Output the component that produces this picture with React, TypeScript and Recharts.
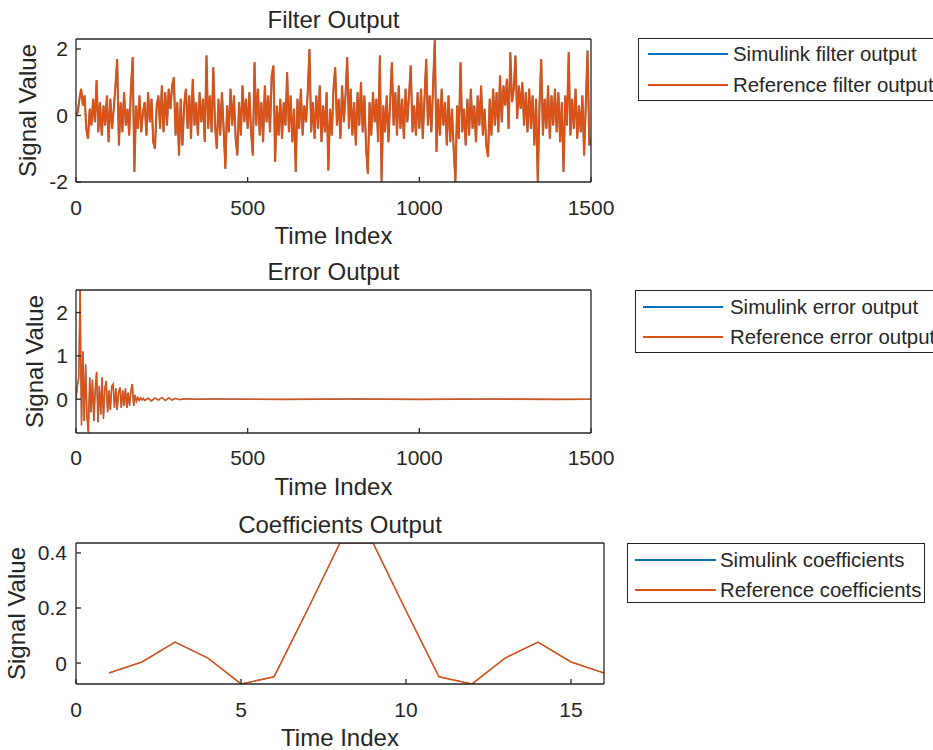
import React from 'react';
import { LineChart, Line, XAxis, YAxis, Legend, Customized } from 'recharts';

const FONT = '"Liberation Sans", Arial, Helvetica, sans-serif';
const AXIS = '#262626';
const BLUE = '#0072BD';
const ORANGE = '#D95319';

// ---------- Data ----------
const filterStep = 5; // one reading every 5 samples of the time index
const filterOutput = [
  0, 0.1, 0.5, 0.8, 0.3, 0.6, -0.4, -0.7, 0.2, -0.3, 0.5, -0.2, 1.06, -0.5, 0.4, -0.6, 0.3, -0.3, 0.6, -0.8,
  0.5, -0.4, 0.2, 0.9, 1.7, -0.9, 0.4, -0.5, 0.7, -0.3, 0.2, -0.6, 0.8, 1.75, -1.7, 0.3, -0.4, 0.6, -0.5, 0.1,
  0.4, -0.6, 0.7, -0.2, 0.5, -0.8, -1.0, 0.3, 0.6, -0.4, 0.9, -0.5, 0.7, -0.3, 0.8, 0.2, 0.9, 1.15, -0.6, 0.4,
  -1.2, 0.5, -0.9, 0.3, 0.8, -0.4, 0.6, -0.7, 1.1, -0.3, 0.4, -0.6, 0.7, -0.2, 0.5, -0.8, 1.8, -0.4, 0.6, -0.5,
  1.45, -0.3, -1.0, 0.5, -0.6, 0.7, -0.4, -1.6, 0.3, -0.5, 0.8, -0.3, 0.6, -0.7, -1.2, 0.4, -0.6, 0.9, -0.2, 0.5,
  -0.4, 0.7, -0.5, -1.2, 1.6, -0.3, 0.8, -0.6, 0.4, -0.8, 0.9, -0.2, 0.6, -0.5, 1.2, 1.5, -1.4, 0.3, -0.6, 0.5,
  -0.7, 0.4, -0.3, 1.3, -0.5, 0.6, -0.8, 0.2, -1.7, 0.5, -0.4, 0.8, -0.6, 0.3, -0.2, 0.7, 2.0, -0.5, 0.4, -0.7,
  0.6, -0.4, 0.9, -0.8, 0.3, -0.5, 0.7, -1.65, 0.2, -0.6, 0.8, 1.45, -0.3, 0.5, -0.7, 0.9, -0.2, 0.6, 1.75, -0.4,
  0.8, -0.6, 0.4, -0.9, 0.7, -0.3, 1.0, -0.5, 0.6, -1.0, -1.75, 0.4, -0.6, 0.7, -0.2, 0.5, -0.8, 1.8, -2.0, 0.3,
  -0.5, 0.6, -0.8, 0.4, 1.6, -0.3, 0.7, -0.6, 0.9, -0.4, 0.5, -0.7, 0.8, -0.2, 0.6, 1.5, -0.5, 0.3, -0.6, 0.7,
  -0.4, 0.8, -0.7, 0.5, 1.7, -0.3, 0.6, -0.5, 0.9, 2.27, -1.1, 0.5, -0.6, 0.8, -0.3, 0.4, -0.9, 0.6, -0.8, 0.2,
  -1.0, -2.0, 0.3, -0.7, 1.6, -0.5, 0.2, -0.9, 0.5, -0.6, 0.8, -0.4, 0.3, -0.8, 0.6, -0.3, 0.9, -0.6, 0.2, -0.9,
  -1.25, 0.5, -0.6, 0.8, -0.3, 0.7, -0.5, 1.2, -0.2, 0.9, 0.3, 1.1, -0.4, 1.9, 0.4, 0.8, 1.8, -0.1, 0.9, 0.2,
  1.0, -0.3, 0.7, -0.5, 0.8, -0.4, 0.6, -0.9, 0.5, -2.0, 0.3, 1.7, -0.6, 0.5, -0.4, 0.9, -0.7, 0.6, -0.3, 0.8,
  -0.5, 0.7, -0.8, 0.4, -1.7, 0.6, -0.3, 1.9, -0.6, 0.5, -0.4, 0.8, -0.7, 0.3, -0.5, 0.6, -1.2, 0.4, 1.95, -0.9, -0.7,
];

const errorIndex = [
  0, 4, 8, 12, 16, 20, 24, 28, 32, 36, 40, 44, 48, 52, 56, 60, 64, 68, 72, 76,
  80, 84, 88, 92, 96, 100, 104, 108, 112, 116, 120, 124, 128, 132, 136, 140, 144, 148, 152, 156,
  160, 164, 168, 172, 176, 180, 184, 188, 192, 196,
  200, 210, 220, 230, 240, 250, 260, 270, 280, 290, 300, 320, 350,
  400, 600, 800, 1000, 1200, 1400, 1500,
];
const errorOutput = [
  0, 0.3, 0.5, 2.52, -0.6, 1.1, -0.5, 0.8, -0.4, -0.77, 0.5, -0.3, 0.45, -0.5, 0.2, 0.63, -0.53, 0.3, -0.35, 0.5,
  -0.45, 0.25, 0.42, -0.3, 0.2, -0.25, 0.3, 0.35, -0.2, 0.25, -0.25, 0.15, 0.27, -0.2, 0.2, -0.15, 0.25, -0.2, 0.15, -0.15,
  0.2, 0.35, -0.15, 0.1, -0.05, 0.04, -0.03, 0.03, -0.02, 0.02,
  -0.03, 0.02, -0.04, 0.03, -0.02, 0.04, -0.03, 0.03, -0.02, 0.02, -0.01, 0.01, 0,
  0.005, -0.005, 0.004, -0.004, 0.003, -0.003, 0,
];

const coeffIndex = [1, 2, 3, 4, 5, 6, 7, 8, 9, 10, 11, 12, 13, 14, 15, 16];
const coeffOutput = [
  -0.036, 0.004, 0.076, 0.018, -0.076, -0.05, 0.19, 0.436,
  0.436, 0.19, -0.05, -0.076, 0.018, 0.076, 0.004, -0.036,
];

const timeTicks = [0, 500, 1000, 1500];
const filterYTicks = [-2, 0, 2];
const errorYTicks = [0, 1, 2];
const coeffXTicks = [0, 5, 10, 15];
const coeffYTicks = [0, 0.2, 0.4];

// ---------- Tables for Recharts ----------
const filterData = filterOutput.map((v, i) => ({ t: i * filterStep, sim: v, ref: v }));
const errorData = errorIndex.map((t, i) => ({ t, sim: errorOutput[i], ref: errorOutput[i] }));
const coeffData = coeffIndex.map((t, i) => ({ t, sim: coeffOutput[i], ref: coeffOutput[i] }));

type Box = { left: number; right: number; top: number; bottom: number };
type LegendCfg = {
  left: number; top: number; width: number; height: number;
  rows: number[]; lineStart: number; lineEnd: number; textStart: number;
};

type PanelProps = {
  top: number; height: number;
  data: { t: number; sim: number; ref: number }[];
  plot: Box;
  xDomain: [number, number]; xTicks: number[];
  yDomain: [number, number]; yTicks: number[];
  xTickMargin: number; yTickMargin: number;
  title: string; titleBaseline: number;
  xLabelBaseline: number; yLabelX: number;
  simName: string; refName: string;
  legend: LegendCfg;
  lineWidth: number;
};

const tickStyle = { fill: AXIS, fontSize: 21, fontFamily: FONT };
const lineStyle = { stroke: AXIS, strokeWidth: 1.3 };

function Panel(p: PanelProps) {
  const W = 933;
  const margin = {
    top: p.plot.top - p.top - 1,
    bottom: p.top + p.height - p.plot.bottom - 1,
    left: 0,
    right: W - p.plot.right - 1,
  };
  const cx = (p.plot.left + p.plot.right) / 2;
  const cy = (p.plot.top + p.plot.bottom) / 2 - p.top;
  const lg = p.legend;

  const renderLegend = (props: any) => {
    const order = ['sim', 'ref'];
    const items = [...(props.payload || [])].sort(
      (a: any, b: any) => order.indexOf(a.dataKey) - order.indexOf(b.dataKey)
    );
    return (
      <div
        style={{
          position: 'relative', width: lg.width, height: lg.height, boxSizing: 'border-box',
          border: `1.3px solid ${AXIS}`, background: '#fff',
        }}
      >
        {items.map((it: any, i: number) => (
          <React.Fragment key={it.dataKey}>
            <div
              style={{
                position: 'absolute', left: lg.lineStart - 1, top: lg.rows[i] - 1.75,
                width: lg.lineEnd - lg.lineStart, height: 1.5, background: it.color,
              }}
            />
            <div
              style={{
                position: 'absolute', left: lg.textStart - 1, top: lg.rows[i] - 1, transform: 'translateY(-50%)',
                fontSize: 20.4, fontFamily: FONT, color: AXIS, whiteSpace: 'nowrap', lineHeight: 1,
              }}
            >
              {it.value}
            </div>
          </React.Fragment>
        ))}
      </div>
    );
  };

  return (
    <div style={{ position: 'absolute', left: 0, top: p.top, width: W, height: p.height }}>
      <LineChart width={W} height={p.height} data={p.data} margin={margin}>
        <XAxis
          xAxisId="b" dataKey="t" type="number" domain={p.xDomain} ticks={p.xTicks} interval={0}
          allowDataOverflow height={1} tickSize={-5} tickMargin={p.xTickMargin}
          axisLine={lineStyle} tickLine={lineStyle} tick={tickStyle}
        />
        <XAxis
          xAxisId="t" orientation="top" dataKey="t" type="number" domain={p.xDomain} ticks={p.xTicks} interval={0}
          allowDataOverflow height={1} tickSize={-5} axisLine={lineStyle} tickLine={lineStyle} tick={false}
        />
        <YAxis
          yAxisId="l" type="number" domain={p.yDomain} ticks={p.yTicks} interval={0} allowDataOverflow
          width={p.plot.left} tickSize={-5} tickMargin={p.yTickMargin}
          axisLine={lineStyle} tickLine={lineStyle} tick={tickStyle}
        />
        <YAxis
          yAxisId="r" orientation="right" type="number" domain={p.yDomain} ticks={p.yTicks} interval={0}
          allowDataOverflow width={1} tickSize={-5} axisLine={lineStyle} tickLine={lineStyle} tick={false}
        />
        <Line
          xAxisId="b" yAxisId="l" dataKey="sim" name={p.simName} stroke={BLUE} strokeWidth={p.lineWidth - 0.6}
          dot={false} isAnimationActive={false}
        />
        <Line
          xAxisId="b" yAxisId="l" dataKey="ref" name={p.refName} stroke={ORANGE} strokeWidth={p.lineWidth}
          dot={false} isAnimationActive={false}
        />
        <Legend
          layout="vertical" align="center" verticalAlign="middle"
          wrapperStyle={{ left: lg.left, top: lg.top - p.top, width: lg.width, height: lg.height, right: 'auto', bottom: 'auto' }}
          content={renderLegend}
        />
        <Customized
          component={
            <g>
              <text x={cx} y={p.titleBaseline - p.top} textAnchor="middle" fontSize={24} fontFamily={FONT} fill={AXIS}>
                {p.title}
              </text>
              <text x={cx} y={p.xLabelBaseline - p.top} textAnchor="middle" fontSize={24} fontFamily={FONT} fill={AXIS}>
                Time Index
              </text>
              <text
                x={p.yLabelX} y={cy} textAnchor="middle" fontSize={24} fontFamily={FONT} fill={AXIS}
                transform={`rotate(-90 ${p.yLabelX} ${cy})`}
              >
                Signal Value
              </text>
            </g>
          }
        />
      </LineChart>
    </div>
  );
}

export default function App() {
  return (
    <div
      style={{
        position: 'absolute', left: 0, top: 0, width: 933, height: 750, overflow: 'hidden',
        background: '#fff', fontFamily: FONT,
      }}
    >
      <Panel
        top={0} height={250} data={filterData} lineWidth={2.1}
        plot={{ left: 76, right: 591, top: 39, bottom: 182 }}
        xDomain={[0, 1500]} xTicks={timeTicks} yDomain={[-2, 2.3]} yTicks={filterYTicks}
        xTickMargin={23.5} yTickMargin={13}
        title="Filter Output" titleBaseline={28} xLabelBaseline={244} yLabelX={36}
        simName="Simulink filter output" refName="Reference filter output"
        legend={{ left: 638, top: 38, width: 300, height: 63, rows: [16, 47], lineStart: 10, lineEnd: 90, textStart: 95 }}
      />
      <Panel
        top={250} height={252} data={errorData} lineWidth={1.6}
        plot={{ left: 76, right: 591, top: 290, bottom: 433 }}
        xDomain={[0, 1500]} xTicks={timeTicks} yDomain={[-0.78, 2.52]} yTicks={errorYTicks}
        xTickMargin={22.5} yTickMargin={13}
        title="Error Output" titleBaseline={280} xLabelBaseline={495} yLabelX={43}
        simName="Simulink error output" refName="Reference error output"
        legend={{ left: 635, top: 290, width: 305, height: 63, rows: [17, 47], lineStart: 8, lineEnd: 88, textStart: 95 }}
      />
      <Panel
        top={502} height={248} data={coeffData} lineWidth={1.6}
        plot={{ left: 76, right: 604, top: 543, bottom: 684 }}
        xDomain={[0, 16]} xTicks={coeffXTicks} yDomain={[-0.076, 0.436]} yTicks={coeffYTicks}
        xTickMargin={23} yTickMargin={14}
        title="Coefficients Output" titleBaseline={533} xLabelBaseline={746} yLabelX={25}
        simName="Simulink coefficients" refName="Reference coefficients"
        legend={{ left: 627, top: 543, width: 298, height: 60, rows: [17, 47], lineStart: 8, lineEnd: 89, textStart: 93 }}
      />
    </div>
  );
}
